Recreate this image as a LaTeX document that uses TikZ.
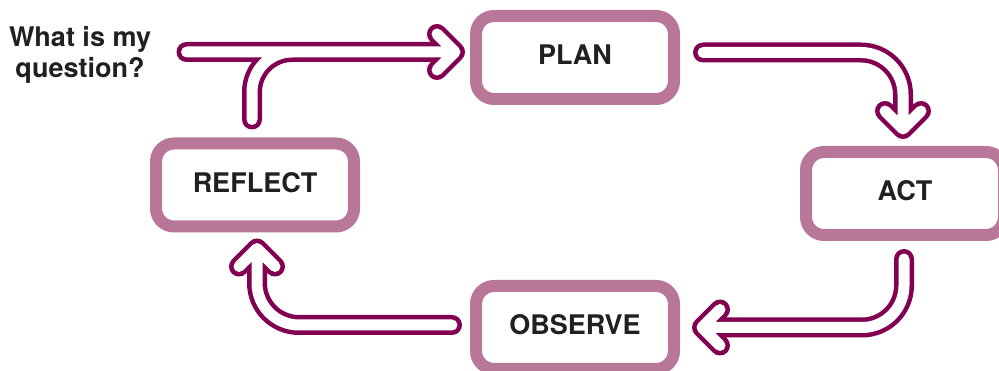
\documentclass[tikz,border=0pt]{standalone}
\usepackage{fontspec}
\setmainfont{TeX Gyre Heros}
\usetikzlibrary{calc}

\definecolor{cycleline}{HTML}{820052}
\definecolor{cyclebox}{HTML}{B87799}
\definecolor{cycletext}{HTML}{231F20}

\begin{document}
\begin{tikzpicture}[x=1pt, y=-1pt,
        stage/.style={draw=cyclebox, line width=12pt, rounded corners=18pt,
            minimum width=198pt, minimum height=83pt, text depth=6pt,
            text=cycletext, font=\fontsize{27}{31}\selectfont\bfseries},
        flow/.style={draw=cycleline, line width=4.5pt, double=white,
            double distance=11pt, line cap=round, line join=round}]
    \useasboundingbox (0,0) rectangle (999,371);

    % the four stages
    \node[stage] (plan) at (575, 57.5) {PLAN};
    \node[stage] (act) at (905, 193.5) {ACT};
    \node[stage] (observe) at (575, 327.5) {OBSERVE};
    \node[stage] (reflect) at (255, 185) {REFLECT};

    \node[align=center, text=cycletext, font=\fontsize{27}{31}\selectfont\bfseries]
        (question) at (80, 55) {What is my\\question?};

    % ends of the arrows
    \coordinate (q-out) at ($(question.east)+(32,-3)$);
    \coordinate (plan-in) at ($(plan.west)+(-15,-5.5)$);
    \coordinate (plan-out) at ($(plan.east)+(23,-5)$);
    \coordinate (act-in) at ($(act.north)+(-2,-17)$);
    \coordinate (act-out) at ($(act.south)+(-1,18)$);
    \coordinate (observe-in) at ($(observe.east)+(22,0)$);
    \coordinate (observe-out) at ($(observe.west)+(-18,-2.5)$);
    \coordinate (reflect-in) at ($(reflect.south)+(2,16)$);
    \coordinate (reflect-out) at ($(reflect.north)+(-3,-18)$);

    % question and reflect both lead into plan
    \draw[flow] (q-out) -- (plan-in)
        (plan-in) ++(-18,-18) -- (plan-in) -- ++(-18,18)
        (reflect-out) [rounded corners=40pt] |- (plan-in);

    \draw[flow] (plan-out) [rounded corners=42pt] -| (act-in)
        [sharp corners] (act-in) ++(-18,-18) -- (act-in) -- ++(18,-18);

    \draw[flow] (act-out) [rounded corners=42pt] |- (observe-in)
        [sharp corners] (observe-in) ++(18,-18) -- (observe-in) -- ++(18,18);

    \draw[flow] (observe-out) [rounded corners=42pt] -| (reflect-in)
        [sharp corners] (reflect-in) ++(-18,18) -- (reflect-in) -- ++(18,18);
\end{tikzpicture}
\end{document}
